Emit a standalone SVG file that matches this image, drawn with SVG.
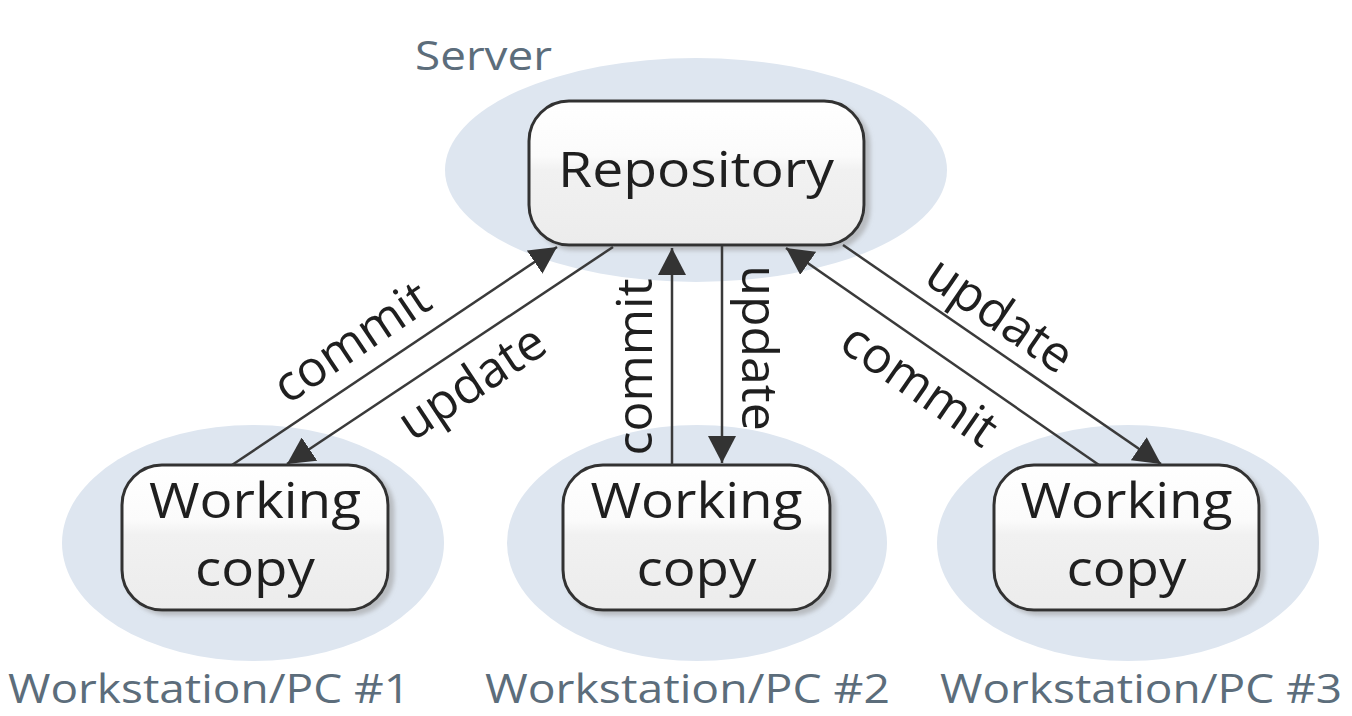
<svg xmlns="http://www.w3.org/2000/svg" width="1352" height="716" viewBox="0 0 1352 716">
  <defs>
    <linearGradient id="boxFill" x1="0" y1="0" x2="0" y2="1">
      <stop offset="0" stop-color="#ffffff"/>
      <stop offset="0.38" stop-color="#fbfbfb"/>
      <stop offset="0.48" stop-color="#f1f1f1"/>
      <stop offset="1" stop-color="#ececec"/>
    </linearGradient>
    <filter id="shadow" x="-10%" y="-10%" width="125%" height="125%">
      <feDropShadow dx="5" dy="4" stdDeviation="2" flood-color="#9a9a9a" flood-opacity="0.55"/>
    </filter>
    <marker id="arrow" markerUnits="userSpaceOnUse" viewBox="0 0 27 28" markerWidth="27" markerHeight="28" refX="27" refY="14" orient="auto">
      <path d="M0,0 L27,14 L0,28 z" fill="#333333"/>
    </marker>
    <style>
      .zone { fill: #dee6f0; }
      .box { fill: url(#boxFill); stroke: #333333; stroke-width: 3; filter: url(#shadow); }
      .boxtext { font-family: "Open Sans", "Noto Sans", "Liberation Sans", sans-serif; font-size: 50px; fill: #1f1f1f; text-anchor: middle; }
      .zonetext { font-family: "Open Sans", "Noto Sans", "Liberation Sans", sans-serif; font-size: 40px; fill: #5c6d7b; }
      .conn { stroke: #3a3a3a; stroke-width: 2.5; fill: none; marker-end: url(#arrow); }
      .lbl { font-family: "Open Sans", "Noto Sans", "Liberation Sans", sans-serif; font-size: 50px; fill: #1f1f1f; text-anchor: middle; }
    </style>
  </defs>

  <rect x="0" y="0" width="1352" height="716" fill="#ffffff"/>

  <g id="server">
    <ellipse class="zone" cx="696" cy="170" rx="251" ry="112"/>
    <text class="zonetext" x="415" y="70" textLength="137" lengthAdjust="spacingAndGlyphs">Server</text>
  </g>
  <g id="pc1">
    <ellipse class="zone" cx="253" cy="543" rx="191" ry="118"/>
    <text class="zonetext" x="8" y="703" textLength="402" lengthAdjust="spacingAndGlyphs">Workstation/PC #1</text>
  </g>
  <g id="pc2">
    <ellipse class="zone" cx="697" cy="543" rx="190" ry="118"/>
    <text class="zonetext" x="485" y="703" textLength="405" lengthAdjust="spacingAndGlyphs">Workstation/PC #2</text>
  </g>
  <g id="pc3">
    <ellipse class="zone" cx="1128" cy="543" rx="191" ry="118"/>
    <text class="zonetext" x="940" y="703" textLength="402" lengthAdjust="spacingAndGlyphs">Workstation/PC #3</text>
  </g>

  <g id="repository">
    <rect class="box" x="529" y="101" width="335" height="144" rx="40" ry="40"/>
    <text class="boxtext" x="696" y="187" textLength="276" lengthAdjust="spacingAndGlyphs">Repository</text>
  </g>
  <g id="working-copy-1">
    <rect class="box" x="122" y="465" width="266" height="145" rx="40" ry="40"/>
    <text class="boxtext" x="255" y="518" textLength="212" lengthAdjust="spacingAndGlyphs">Working</text>
    <text class="boxtext" x="255" y="586" textLength="120" lengthAdjust="spacingAndGlyphs">copy</text>
  </g>
  <g id="working-copy-2">
    <rect class="box" x="563" y="465" width="267" height="145" rx="40" ry="40"/>
    <text class="boxtext" x="696.5" y="518" textLength="212" lengthAdjust="spacingAndGlyphs">Working</text>
    <text class="boxtext" x="696.5" y="586" textLength="120" lengthAdjust="spacingAndGlyphs">copy</text>
  </g>
  <g id="working-copy-3">
    <rect class="box" x="994" y="465" width="265" height="145" rx="40" ry="40"/>
    <text class="boxtext" x="1126.5" y="518" textLength="212" lengthAdjust="spacingAndGlyphs">Working</text>
    <text class="boxtext" x="1126.5" y="586" textLength="120" lengthAdjust="spacingAndGlyphs">copy</text>
  </g>

  <g id="connectors">
    <line class="conn" x1="232" y1="465" x2="557" y2="247"/>
    <line class="conn" x1="613" y1="247" x2="287" y2="464"/>
    <line class="conn" x1="672" y1="465" x2="672" y2="248"/>
    <line class="conn" x1="722" y1="246" x2="722" y2="463"/>
    <line class="conn" x1="1099" y1="465" x2="786" y2="248"/>
    <line class="conn" x1="843" y1="245" x2="1161" y2="464"/>

    <text class="lbl" transform="translate(371,371) rotate(-33.85)" x="0" y="-18">commit</text>
    <text class="lbl" transform="translate(453,354) rotate(-33.6)" x="0" y="51">update</text>
    <text class="lbl" transform="translate(652,367) rotate(-90)" x="0" y="0">commit</text>
    <text class="lbl" transform="translate(742,348) rotate(90)" x="0" y="0">update</text>
    <text class="lbl" transform="translate(940,355) rotate(34.7)" x="0" y="53">commit</text>
    <text class="lbl" transform="translate(982,341) rotate(34.5)" x="0" y="-15">update</text>
  </g>
</svg>
